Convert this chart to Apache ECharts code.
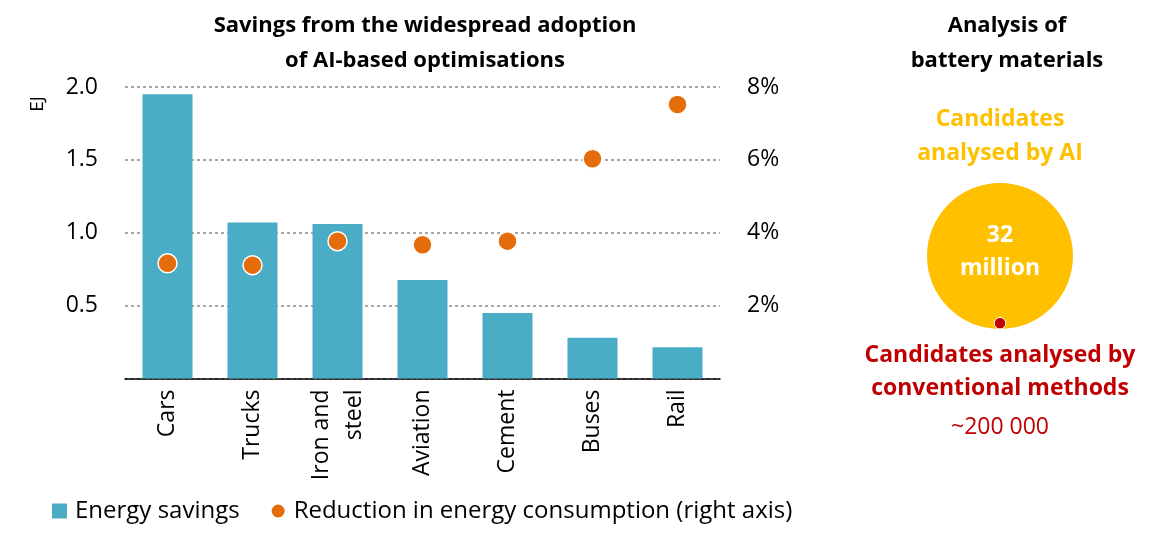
<!DOCTYPE html>
<html>
<head>
<meta charset="utf-8">
<script src="https://cdn.jsdelivr.net/npm/echarts@6/dist/echarts.min.js"></script>
<style>html,body{margin:0;padding:0;background:#fff;}#c{width:1174px;height:537px;}</style>
</head>
<body>
<div id="c"></div>
<script>
const categories = ['Cars', 'Trucks', 'Iron and\nsteel', 'Aviation', 'Cement', 'Buses', 'Rail'];
const energySavings = [1.95, 1.07, 1.06, 0.675, 0.45, 0.28, 0.215];
const reductionPct = [3.16, 3.11, 3.77, 3.67, 3.77, 6.03, 7.52];
const leftTicks = [0, 0.5, 1.0, 1.5, 2.0];
const rightTicks = [0, 2, 4, 6, 8];
const aiCandidates = 32000000;
const conventionalCandidates = 200000;

const FONT = 'Open Sans';
const BLUE = '#4BACC6';
const ORANGE = '#E46C0A';
const YELLOW = '#FFC000';
const RED = '#C00000';

const bigSize = 146;
const smallSize = bigSize * Math.sqrt(conventionalCandidates / aiCandidates);

const chart = echarts.init(document.getElementById('c'));
chart.setOption({
  backgroundColor: '#fff',
  animation: false,
  textStyle: { fontFamily: FONT },
  title: [
    { text: 'Savings from the widespread adoption\nof AI-based optimisations', left: 420, top: 3, textAlign: 'center',
      textStyle: { fontFamily: FONT, fontSize: 22, fontWeight: 'bold', color: '#000', lineHeight: 35 } },
    { text: 'Analysis of\nbattery materials', left: 1002, top: 3, textAlign: 'center',
      textStyle: { fontFamily: FONT, fontSize: 22, fontWeight: 'bold', color: '#000', lineHeight: 35 } }
  ],
  legend: {
    left: 47, top: 494, itemWidth: 15, itemHeight: 15, itemGap: 30,
    textStyle: { fontFamily: FONT, fontSize: 24, color: '#000', padding: [0, 0, 0, 3] },
    data: [
      { name: 'Energy savings', icon: 'rect' },
      { name: 'Reduction in energy consumption (right axis)', icon: 'circle' }
    ]
  },
  grid: [
    { left: 125, right: 454, top: 87, bottom: 158.5 },
    { left: 927, top: 183, width: bigSize, height: bigSize }
  ],
  xAxis: [
    { type: 'category', gridIndex: 0, data: categories,
      axisLine: { lineStyle: { color: '#000', width: 1.5 } },
      axisTick: { show: false },
      axisLabel: { rotate: 90, fontSize: 23, color: '#000', margin: 11, fontFamily: FONT, lineHeight: 33 } },
    { type: 'value', gridIndex: 1, min: -1, max: 1, show: false }
  ],
  yAxis: [
    { type: 'value', gridIndex: 0, min: 0, max: 2, interval: 0.5,
      axisLine: { show: false }, axisTick: { show: false },
      axisLabel: { fontSize: 23, color: '#000', margin: 27, fontFamily: FONT,
        formatter: v => (v === 0 ? '' : v.toFixed(1)) },
      splitLine: { lineStyle: { color: '#A6A6A6', type: [3, 3], width: 2 } } },
    { type: 'value', gridIndex: 0, min: 0, max: 8, interval: 2, position: 'right',
      axisLine: { show: false }, axisTick: { show: false },
      axisLabel: { fontSize: 23, color: '#000', margin: 27, fontFamily: FONT,
        formatter: v => (v === 0 ? '' : v + '%') },
      splitLine: { show: false } },
    { type: 'value', gridIndex: 1, min: -1, max: 1, show: false }
  ],
  series: [
    { name: 'Energy savings', type: 'bar', xAxisIndex: 0, yAxisIndex: 0, data: energySavings,
      barWidth: 50, itemStyle: { color: BLUE } },
    { name: 'Reduction in energy consumption (right axis)', type: 'scatter', xAxisIndex: 0, yAxisIndex: 1,
      data: reductionPct, symbol: 'circle', symbolSize: 19,
      itemStyle: { color: ORANGE, borderColor: '#fff', borderWidth: 1.5, opacity: 1 }, z: 5 },
    { name: 'AI', type: 'scatter', xAxisIndex: 1, yAxisIndex: 2, z: 3,
      data: [{ value: [0, 0], symbolSize: bigSize,
        label: { show: true, position: 'inside', offset: [0, -4], formatter: (aiCandidates / 1e6) + '\nmillion',
          color: '#fff', fontWeight: 'bold', fontSize: 23, lineHeight: 33, fontFamily: FONT },
        itemStyle: { color: YELLOW, opacity: 1 } }] },
    { name: 'Conventional', type: 'scatter', xAxisIndex: 1, yAxisIndex: 2, z: 4,
      data: [{ value: [0, -1 + smallSize / bigSize], symbolSize: smallSize,
        itemStyle: { color: RED, borderColor: '#fff', borderWidth: 1, opacity: 1 },
        label: { show: true, position: 'bottom', distance: 9,
          formatter: '{b|Candidates analysed by}\n{b|conventional methods}\n{n|~200 000}',
          rich: {
            b: { color: RED, fontWeight: 'bold', fontSize: 23, lineHeight: 33, fontFamily: FONT, align: 'center' },
            n: { color: RED, fontSize: 23, lineHeight: 45, fontFamily: FONT, align: 'center' }
          } } }] }
  ],
  graphic: [
    { type: 'text', x: 38, y: 104, rotation: Math.PI / 2,
      style: { text: 'EJ', fontSize: 19, fontFamily: FONT, fill: '#000', textAlign: 'center', textVerticalAlign: 'middle' } },
    { type: 'text', x: 1000, y: 119,
      style: { text: 'Candidates', fontSize: 23, fontWeight: 'bold', fontFamily: FONT, fill: YELLOW, textAlign: 'center', textVerticalAlign: 'middle' } },
    { type: 'text', x: 1000, y: 153,
      style: { text: 'analysed by AI', fontSize: 23, fontWeight: 'bold', fontFamily: FONT, fill: YELLOW, textAlign: 'center', textVerticalAlign: 'middle' } }
  ]
});
</script>
</body>
</html>
